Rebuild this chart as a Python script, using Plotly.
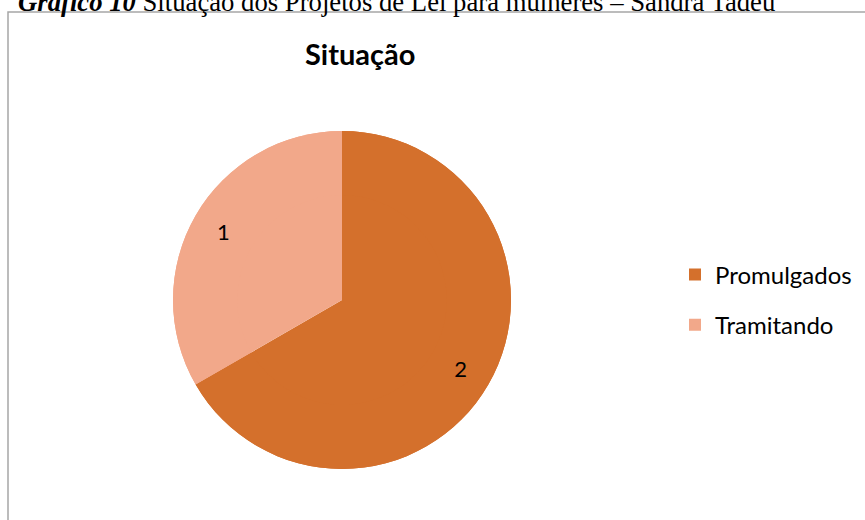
import plotly.graph_objects as go

labels = ["Promulgados", "Tramitando"]
values = [2, 1]
colors = ["#D4702C", "#F2A88A"]

W, H = 865, 520
font_body = "Lato, Carlito, sans-serif"
pie_domain = dict(x=[173 / W, 511 / W], y=[(H - 469) / H, (H - 131) / H])

fig = go.Figure()
# full pie (no text)
fig.add_trace(go.Pie(
    labels=labels, values=values, sort=False, direction="clockwise", rotation=0,
    marker=dict(colors=colors, line=dict(width=0)),
    textinfo="none", domain=pie_domain, showlegend=False, hoverinfo="label+value",
))
# overlay ring carrying the value labels at ~0.8 radius
fig.add_trace(go.Pie(
    labels=labels, values=values, sort=False, direction="clockwise", rotation=0,
    hole=0.62,
    marker=dict(colors=colors, line=dict(width=0)),
    textinfo="value", textposition="inside", insidetextorientation="horizontal",
    textfont=dict(family=font_body, size=22, color="#000000"),
    domain=pie_domain, showlegend=False, hoverinfo="label+value",
))
# legend entries
for lab, col in zip(labels, colors):
    fig.add_trace(go.Scatter(
        x=[None], y=[None], mode="markers", name=lab, legendgroup=lab,
        marker=dict(symbol="square", size=13, color=col),
    ))

fig.update_layout(
    width=W, height=H, margin=dict(l=0, r=0, t=0, b=0),
    paper_bgcolor="white", plot_bgcolor="rgba(0,0,0,0)",
    xaxis=dict(visible=False), yaxis=dict(visible=False),
    showlegend=True,
    legend=dict(x=675 / W, y=(H - 300) / H, xanchor="left", yanchor="middle",
                font=dict(family=font_body, size=24, color="#000000"),
                itemsizing="constant", tracegroupgap=16, bgcolor="rgba(0,0,0,0)"),
    shapes=[dict(type="rect", xref="paper", yref="paper",
                 x0=8 / W, x1=1.01, y0=-0.05, y1=(H - 12) / H,
                 line=dict(color="#A6A6A6", width=1.5), fillcolor="rgba(0,0,0,0)", layer="below")],
    annotations=[
        dict(text="<b>Situação</b>", x=360 / W, y=(H - 54) / H, xref="paper", yref="paper",
             xanchor="center", yanchor="middle", showarrow=False,
             font=dict(family=font_body, size=29, color="#000000")),
        dict(text="<b><i>Gráfico 10</i></b> Situação dos Projetos de Lei para mulheres – Sandra Tadeu",
             x=16 / W, y=(H - 19) / H, xref="paper", yref="paper",
             xanchor="left", yanchor="bottom", showarrow=False,
             font=dict(family="Liberation Serif, Times New Roman, serif", size=26.7, color="#000000")),
    ],
)

fig.write_html("out.html", config={"displayModeBar": False},
               post_script="document.body.style.margin='0';")
